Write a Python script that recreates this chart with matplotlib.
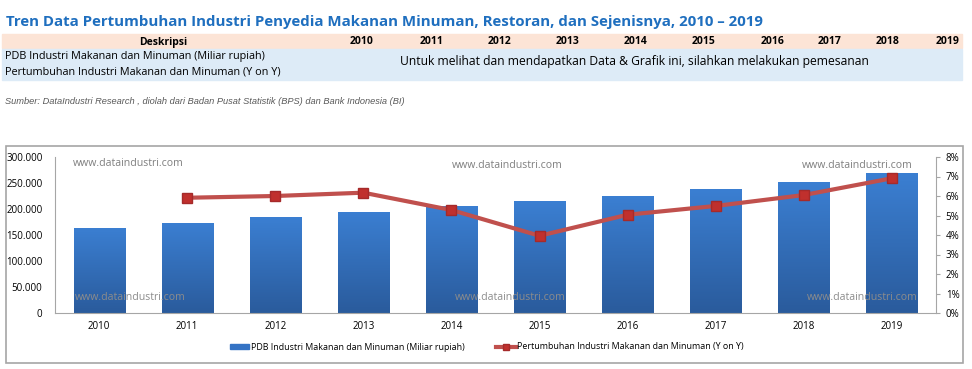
import numpy as np
import matplotlib.pyplot as plt
from matplotlib.patches import Rectangle
from matplotlib.lines import Line2D
from matplotlib.ticker import FuncFormatter
from matplotlib.colors import LinearSegmentedColormap

years = ['2010', '2011', '2012', '2013', '2014', '2015', '2016', '2017', '2018', '2019']
pdb = [164000, 173700, 184000, 194800, 205200, 214800, 225000, 237900, 251900, 268700]
growth_years = years[1:]
growth = [5.91, 6.00, 6.17, 5.28, 3.96, 5.04, 5.49, 6.05, 6.91]

title = 'Tren Data Pertumbuhan Industri Penyedia Makanan Minuman, Restoran, dan Sejenisnya, 2010 – 2019'
row_labels = ['PDB Industri Makanan dan Minuman (Miliar rupiah)',
              'Pertumbuhan Industri Makanan dan Minuman (Y on Y)']
note = 'Untuk melihat dan mendapatkan Data & Grafik ini, silahkan melakukan pemesanan'
source = 'Sumber: DataIndustri Research , diolah dari Badan Pusat Statistik (BPS) dan Bank Indonesia (BI)'
bar_label = 'PDB Industri Makanan dan Minuman (Miliar rupiah)'
line_label = 'Pertumbuhan Industri Makanan dan Minuman (Y on Y)'
wm = 'www.dataindustri.com'

plt.rcParams['font.family'] = ['Open Sans', 'DejaVu Sans']

W, H = 972, 369
fig = plt.figure(figsize=(W / 100, H / 100), dpi=100)


def fx(px):
    return px / W


def fy(py):
    return 1 - py / H


# header table
fig.text(fx(6), fy(22), title, color='#1F6FBF', fontsize=10.8, fontweight='bold',
         va='center', ha='left')
fig.patches.append(Rectangle((fx(2), fy(48)), fx(960), 14 / H, transform=fig.transFigure,
                             color='#FCE4D6', zorder=0))
fig.patches.append(Rectangle((fx(2), fy(80)), fx(960), 31 / H, transform=fig.transFigure,
                             color='#DDEBF7', zorder=0))
fig.text(fx(163), fy(42), 'Deskripsi', fontsize=7.5, fontweight='bold', ha='center', va='center')
year_x = [362, 432, 500, 568, 636, 704, 773, 830, 888, 948]
for yx, yr in zip(year_x, years):
    fig.text(fx(yx), fy(42), yr, fontsize=7.5, fontweight='bold', ha='center', va='center')
fig.text(fx(5), fy(57), row_labels[0], fontsize=7.8, ha='left', va='center')
fig.text(fx(5), fy(72), row_labels[1], fontsize=7.8, ha='left', va='center')
fig.text(fx(400), fy(61), note, fontsize=8.7, ha='left', va='center')
fig.text(fx(5), fy(101), source, fontsize=6.7, style='italic', color='#595959',
         family='Liberation Sans', ha='left', va='center')

# chart frame
fig.patches.append(Rectangle((fx(6), fy(363)), fx(957), 217 / H, transform=fig.transFigure,
                             fill=False, edgecolor='#A6A6A6', lw=1.2, zorder=0))

ax = fig.add_axes([fx(55), fy(313), fx(881), 156 / H])
x = np.arange(len(years))
bars = ax.bar(x, pdb, width=0.58, color='#3473C4', zorder=2)
grad = np.linspace(0, 1, 256).reshape(-1, 1)
cmap = LinearSegmentedColormap.from_list('g', ['#2A5B9C', '#3B7FD2'])
for b in bars:
    b.set_facecolor('none')
    im = ax.imshow(grad, extent=[b.get_x(), b.get_x() + b.get_width(), 0, b.get_height()],
                   aspect='auto', cmap=cmap, origin='lower', zorder=2)
    im.set_clip_path(b)
ax.set_xlim(-0.5, len(years) - 0.5)
ax.set_ylim(0, 300000)
ax.set_yticks(np.arange(0, 300001, 50000))
ax.yaxis.set_major_formatter(FuncFormatter(lambda v, p: f'{int(v):,}'.replace(',', '.')))
ax.set_xticks(x)
ax.set_xticklabels(years)
ax.tick_params(axis='both', labelsize=7, length=0, pad=6)
ax.tick_params(axis='y', pad=9)
for s in ['top', 'right']:
    ax.spines[s].set_visible(False)
ax.spines['left'].set_color('#A6A6A6')
ax.spines['bottom'].set_color('#A6A6A6')

ax2 = ax.twinx()
gx = [years.index(y) for y in growth_years]
ax2.plot(gx, growth, color='#C0504D', lw=3, marker='s', markersize=6.5,
         markerfacecolor='#C0302D', markeredgecolor='#A52A2A', zorder=3)
ax2.set_ylim(0, 8)
ax2.set_yticks(range(0, 9))
ax2.yaxis.set_major_formatter(FuncFormatter(lambda v, p: f'{int(v)}%'))
ax2.tick_params(axis='y', labelsize=7, length=3, color='#A6A6A6', pad=4)
for s in ['top', 'left', 'bottom']:
    ax2.spines[s].set_visible(False)
ax2.spines['right'].set_color('#A6A6A6')

# watermarks
for px, py, c in [(73, 163, '#7F7F7F'), (452, 166, '#7F7F7F'), (802, 166, '#7F7F7F'),
                  (75, 297, '#8C8C8C'), (455, 297, '#8C8C8C'), (807, 297, '#8C8C8C')]:
    fig.text(fx(px), fy(py), wm, fontsize=7.6, color=c, ha='left', va='center', zorder=10)

handles = [Rectangle((0, 0), 1, 1, color='#3473C4'),
           Line2D([], [], color='#C0504D', lw=3, marker='s', markersize=5,
                  markerfacecolor='#C0302D', markeredgecolor='#A52A2A')]
fig.legend(handles, [bar_label, line_label], loc='center', bbox_to_anchor=(fx(487), fy(347)),
           ncol=2, frameon=False, fontsize=6.4, handlelength=2.2, handleheight=0.45,
           handletextpad=0.2, columnspacing=3.5)

fig.savefig('out.png', dpi=100)
